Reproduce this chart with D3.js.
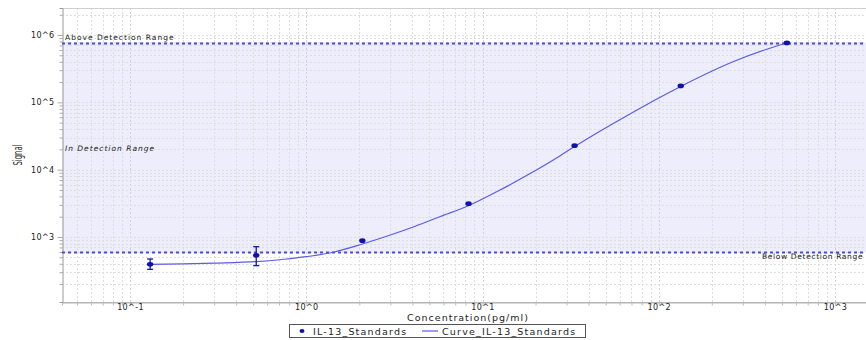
<!DOCTYPE html>
<html>
<head>
<meta charset="utf-8">
<script src="https://cdn.jsdelivr.net/npm/d3@7/dist/d3.min.js"></script>
<style>
  html, body { margin: 0; padding: 0; background: #fff; }
  svg { display: block; }
  text { font-family: "DejaVu Sans", Verdana, sans-serif; fill: #222; }
</style>
</head>
<body>
<svg id="chart" width="866" height="340"></svg>
<script>
// Standards: concentration (pg/ml), mean signal and error bar extent
const standardConc   = [0.13, 0.52, 2.08, 8.33, 33.3, 133.3, 533.3];
const standardSignal = [393, 535, 881, 3125, 22700, 175000, 764000];
const errLow         = [331, 375, null, null, null, null, null];
const errHigh        = [471, 718, null, null, null, null, null];

// Fitted standard curve
const curveConc   = [0.130, 0.200, 0.301, 0.518, 0.750, 1.00, 1.42, 2.08, 3.00, 4.15, 5.76, 8.38, 12.1, 18.2, 27.6, 33.3, 66.3, 134.2, 268, 411, 534];
const curveSignal = [393, 400, 410, 430, 467, 510, 593, 787, 1071, 1447, 2016, 2937, 4725, 8450, 16130, 22090, 63970, 173700, 406900, 615500, 760700];

// Detection limits
const upperLimit = 770000;
const lowerLimit = 593;

// Axis ticks
const xMajorTicks = [0.1, 1, 10, 100, 1000];
const yMajorTicks = [1000, 10000, 100000, 1000000];
const xTickLabels = ["10^-1", "10^0", "10^1", "10^2", "10^3"];
const yTickLabels = ["10^3", "10^4", "10^5", "10^6"];

const svg = d3.select("#chart");
const L = 62, R = 866, T = 8, B = 302;

const x = d3.scaleLog().domain([0.0411, 1500]).range([L, R]);
const y = d3.scaleLog().domain([108.3, 2.518e6]).range([B, T]);

// minor tick values for log axes
function logMinors(scale) {
  const [a, b] = scale.domain();
  const out = [];
  for (let e = Math.floor(Math.log10(a)); e <= Math.ceil(Math.log10(b)); e++) {
    for (let m = 1; m <= 9; m++) {
      const v = m * Math.pow(10, e);
      if (v >= a && v <= b) out.push(v);
    }
  }
  return out;
}
const xAll = logMinors(x), yAll = logMinors(y);

// detection range shading
svg.append("rect")
  .attr("x", L).attr("y", y(upperLimit))
  .attr("width", R - L).attr("height", y(lowerLimit) - y(upperLimit))
  .attr("fill", "#ededfb");

// grid
const grid = svg.append("g").attr("stroke", "#dedede").attr("stroke-width", 1).attr("stroke-dasharray", "2,2").attr("fill", "none");
grid.selectAll("line.v").data(xAll).join("line")
  .attr("x1", d => Math.round(x(d)) + 0.5).attr("x2", d => Math.round(x(d)) + 0.5)
  .attr("y1", T).attr("y2", B)
  .attr("stroke", d => xMajorTicks.includes(d) ? "#d2d2d2" : null);
grid.selectAll("line.h").data(yAll).join("line")
  .attr("y1", d => Math.round(y(d)) + 0.5).attr("y2", d => Math.round(y(d)) + 0.5)
  .attr("x1", L).attr("x2", R);

// frame
svg.append("line").attr("x1", L).attr("x2", R).attr("y1", T + 0.5).attr("y2", T + 0.5).attr("stroke", "#cfcfcf");
svg.append("line").attr("x1", L).attr("x2", R).attr("y1", B + 0.5).attr("y2", B + 0.5).attr("stroke", "#b5b5b5");

// axes
const yAxis = d3.axisLeft(y).tickValues(yAll).tickSize(3)
  .tickFormat(d => { const i = yMajorTicks.indexOf(d); return i >= 0 ? yTickLabels[i] : ""; });
const gy = svg.append("g").attr("transform", `translate(${L + 0.5},0)`).call(yAxis);
gy.select(".domain").attr("stroke", "#9a9a9a");
gy.selectAll(".tick line").attr("stroke", "#aaa")
  .attr("x2", d => yMajorTicks.includes(d) ? -5 : -3);
gy.selectAll(".tick text").attr("x", -8).attr("font-size", 8).attr("letter-spacing", 0.4)
  .attr("font-family", "DejaVu Sans, sans-serif").attr("fill", "#333");

const xAxis = d3.axisBottom(x).tickValues(xAll).tickSize(3)
  .tickFormat(d => { const i = xMajorTicks.indexOf(d); return i >= 0 ? xTickLabels[i] : ""; });
const gx = svg.append("g").attr("transform", `translate(0,${B + 0.5})`).call(xAxis);
gx.select(".domain").attr("stroke", "#b5b5b5");
gx.selectAll(".tick line").attr("stroke", "#bbb");
gx.selectAll(".tick text").attr("y", 2).attr("font-size", 8).attr("letter-spacing", 0.4)
  .attr("font-family", "DejaVu Sans, sans-serif").attr("fill", "#333");

// detection limit lines
[upperLimit, lowerLimit].forEach(v => {
  svg.append("line")
    .attr("x1", L).attr("x2", R)
    .attr("y1", Math.round(y(v)) + 0.5).attr("y2", Math.round(y(v)) + 0.5)
    .attr("stroke", "#4a4ae0").attr("stroke-width", 2).attr("stroke-dasharray", "3,3");
});

// range labels
svg.append("text").attr("x", 65).attr("y", y(upperLimit) - 3)
  .attr("font-size", 7.5).attr("letter-spacing", 1.0).text("Above Detection Range");
svg.append("text").attr("x", 65).attr("y", 151)
  .attr("font-size", 7.5).attr("letter-spacing", 1.0).attr("font-style", "italic").text("In Detection Range");
svg.append("text").attr("x", 762).attr("y", y(lowerLimit) + 6.5)
  .attr("font-size", 7.5).attr("letter-spacing", 0.65).text("Below Detection Range");

// fitted curve
const curveData = curveConc.map((c, i) => [c, curveSignal[i]]);
svg.append("path").datum(curveData)
  .attr("fill", "none").attr("stroke", "#5c5ce6").attr("stroke-width", 1.2)
  .attr("d", d3.line().x(d => x(d[0])).y(d => y(d[1])).curve(d3.curveMonotoneX));

// error bars
const pts = standardConc.map((c, i) => ({ c, s: standardSignal[i], lo: errLow[i], hi: errHigh[i] }));
const eb = svg.append("g").attr("stroke", "#1414b4").attr("stroke-width", 1.3);
pts.filter(p => p.lo != null).forEach(p => {
  const cx = x(p.c);
  eb.append("line").attr("x1", cx).attr("x2", cx).attr("y1", y(p.lo)).attr("y2", y(p.hi));
  eb.append("line").attr("x1", cx - 3).attr("x2", cx + 3).attr("y1", y(p.lo)).attr("y2", y(p.lo));
  eb.append("line").attr("x1", cx - 3).attr("x2", cx + 3).attr("y1", y(p.hi)).attr("y2", y(p.hi));
});

// standard points
svg.selectAll("ellipse.pt").data(pts).join("ellipse")
  .attr("cx", d => x(d.c)).attr("cy", d => y(d.s))
  .attr("rx", 3.2).attr("ry", 2.4).attr("fill", "#1010b0");

// axis titles
svg.append("text").attr("transform", "translate(22,155) rotate(-90)")
  .attr("text-anchor", "middle").attr("font-size", 13)
  .attr("font-family", "Liberation Sans Narrow, Liberation Sans, sans-serif")
  .attr("textLength", 21).attr("lengthAdjust", "spacingAndGlyphs").text("Signal");
svg.append("text").attr("x", 468).attr("y", 321).attr("text-anchor", "middle")
  .attr("font-size", 9.5).attr("letter-spacing", 1.0).text("Concentration(pg/ml)");

// legend
const lg = svg.append("g");
lg.append("rect").attr("x", 289.5).attr("y", 324.5).attr("width", 296).attr("height", 13)
  .attr("fill", "#fff").attr("stroke", "#555");
lg.append("ellipse").attr("cx", 302).attr("cy", 331).attr("rx", 2.5).attr("ry", 2).attr("fill", "#1010b0");
lg.append("text").attr("x", 313).attr("y", 334.5).attr("font-size", 9.5).attr("letter-spacing", 1.2).text("IL-13_Standards");
lg.append("line").attr("x1", 422).attr("x2", 438).attr("y1", 331).attr("y2", 331).attr("stroke", "#5c5ce6").attr("stroke-width", 1.2);
lg.append("text").attr("x", 442).attr("y", 334.5).attr("font-size", 9.5).attr("letter-spacing", 1.2).text("Curve_IL-13_Standards");
</script>
</body>
</html>
